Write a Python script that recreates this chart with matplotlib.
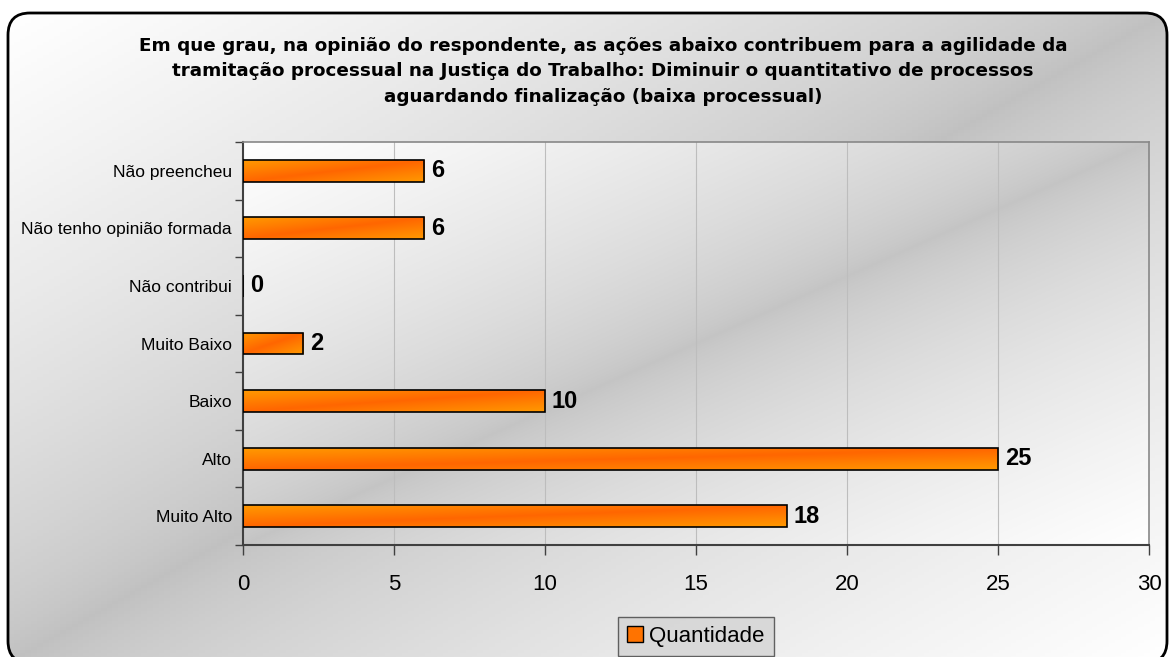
import numpy as np
import matplotlib
matplotlib.use("Agg")
import matplotlib.pyplot as plt
from matplotlib.patches import FancyBboxPatch, Rectangle
from matplotlib.colors import LinearSegmentedColormap

plt.rcParams["font.family"] = ["Liberation Sans", "DejaVu Sans"]

categories = ["Muito Alto", "Alto", "Baixo", "Muito Baixo", "Não contribui",
              "Não tenho opinião formada", "Não preencheu"]
values = [18, 25, 10, 2, 0, 6, 6]
title_lines = [
    "Em que grau, na opinião do respondente, as ações abaixo contribuem para a agilidade da",
    "tramitação processual na Justiça do Trabalho: Diminuir o quantitativo de processos",
    "aguardando finalização (baixa processual)",
]
series_name = "Quantidade"
xticks = [0, 5, 10, 15, 20, 25, 30]


def diag_grad(n=200, m=200, gamma=1.0):
    # 0 on the anti-diagonal, 1 at top-left / bottom-right corners
    v, u = np.mgrid[0:1:complex(0, m), 0:1:complex(0, n)]
    return np.abs(u + v - 1) ** gamma


W, H = 1169, 657
fig = plt.figure(figsize=(W / 100, H / 100), dpi=100)
fig.patch.set_facecolor("white")

# chart frame: rounded corners, diagonal white-gray-white gradient
bg = fig.add_axes([0, 0, 1, 1], zorder=-5)
bg.set_xlim(0, W)
bg.set_ylim(0, H)
bg.axis("off")
gray_cmap = LinearSegmentedColormap.from_list("g", ["#c0c0c0", "#ffffff"])
frame = FancyBboxPatch((8, -6), 1167 - 8, 644 + 6,
                       boxstyle="round,pad=0,rounding_size=22",
                       facecolor="none", edgecolor="black", linewidth=2, zorder=2)
bg.add_patch(frame)
im = bg.imshow(diag_grad(gamma=0.7), extent=[8, 1167, -6, 644], origin="upper",
               cmap=gray_cmap, aspect="auto", zorder=0)
im.set_clip_path(frame)

ax = fig.add_axes([243 / W, 1 - 545 / H, (1149 - 243) / W, (545 - 142) / H])
ax.set_xlim(0, 30)
ax.set_ylim(-0.5, len(categories) - 0.5)

plot_cmap = LinearSegmentedColormap.from_list("p", ["#c4c4c4", "#ffffff"])
ax.imshow(diag_grad(gamma=0.7), extent=[0, 30, -0.5, len(categories) - 0.5],
          origin="upper", cmap=plot_cmap, aspect="auto", zorder=0)

for x in xticks[1:-1]:
    ax.axvline(x, color="#bdbdbd", linewidth=0.8, zorder=1)

ypos = np.arange(len(categories))
bar_h = 0.38
orange = LinearSegmentedColormap.from_list("o", ["#ff6600", "#ff9900"])
bars = ax.barh(ypos, values, height=bar_h, color="none", edgecolor="black",
               linewidth=1.2, zorder=3)
for b, v in zip(bars, values):
    if v > 0:
        img = ax.imshow(diag_grad(100, 20), cmap=orange, aspect="auto",
                        extent=[0, v, b.get_y(), b.get_y() + bar_h],
                        origin="upper", zorder=2)
        img.set_clip_path(b)
    ax.annotate(str(v), (v, b.get_y() + bar_h / 2), xytext=(5, 0),
                textcoords="offset points", va="center", ha="left",
                fontsize=17, fontweight="bold", zorder=4)

ax.set_xticks(xticks)
ax.set_xticklabels([str(t) for t in xticks], fontsize=16)
ax.set_yticks(ypos)
ax.set_yticklabels(categories, fontsize=12.5)
ax.set_yticks(np.arange(-0.5, len(categories), 1), minor=True)
ax.tick_params(axis="y", which="major", length=0, pad=8)
ax.tick_params(axis="y", which="minor", length=6, width=1, color="#404040")
ax.tick_params(axis="x", length=7, width=1, color="#404040", pad=14)

for s in ["left", "bottom"]:
    ax.spines[s].set_color("#404040")
    ax.spines[s].set_linewidth(1.5)
for s in ["top", "right"]:
    ax.spines[s].set_color("#888888")
    ax.spines[s].set_linewidth(1.2)

ty = [46, 71, 97]
for line, y in zip(title_lines, ty):
    fig.text(603 / W, 1 - y / H, line, ha="center", va="center",
             fontsize=13.2, fontweight="bold", family="DejaVu Sans")

handle = Rectangle((0, 0), 1, 1, facecolor="#ff7300", edgecolor="black", linewidth=1)
leg = fig.legend([handle], [series_name], loc="upper center",
                 bbox_to_anchor=(696 / W, 1 - 617 / H), fontsize=16,
                 frameon=True, fancybox=False, handlelength=0.7, handleheight=0.7,
                 handletextpad=0.3, borderpad=0.4, borderaxespad=0)
leg.get_frame().set_facecolor("#d4d4d4")
leg.get_frame().set_edgecolor("#404040")
leg.get_frame().set_linewidth(1)

fig.savefig("out.png", dpi=100)
